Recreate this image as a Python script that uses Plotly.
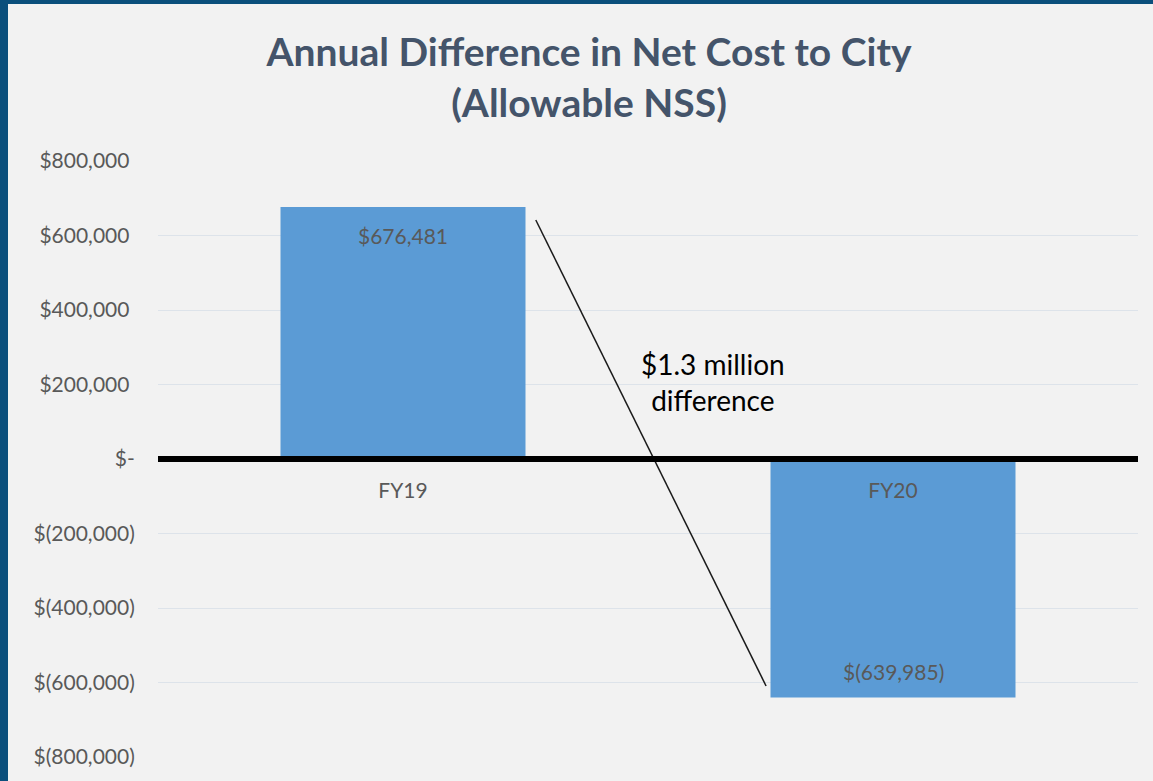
import plotly.graph_objects as go

# ---------------- data ----------------
categories = ["FY19", "FY20"]
net_cost_diff = [676481, -639985]
y_tick_vals = [800000, 600000, 400000, 200000, 0, -200000, -400000, -600000, -800000]
y_tick_text = ["$800,000", "$600,000", "$400,000", "$200,000", "$-",
               "$(200,000)", "$(400,000)", "$(600,000)", "$(800,000)"]
title_lines = ["Annual Difference in Net Cost to City", "(Allowable NSS)"]
callout_lines = ["$1.3 million", "difference"]

# ---------------- style ----------------
W, H = 1153, 781
ML, MR, MT, MB = 158, 15, 161, 24
PW, PH = W - ML - MR, H - MT - MB
BORDER = "#0b4f7c"
BG = "#f2f2f2"
BAR = "#5b9bd5"
TXT = "#595959"
FONT = "Lato"


def money(v):
    return f"${v:,.0f}" if v >= 0 else f"$({-v:,.0f})"


def pad(t):
    if t.endswith(")") or t == "$-":
        return t
    return t + "\u00a0"


fig = go.Figure()
fig.add_trace(go.Bar(
    x=categories, y=net_cost_diff,
    marker=dict(color=BAR, line=dict(width=0)),
    hoverinfo="x+y", showlegend=False,
))

# data labels (inside end of each bar)
for c, v in zip(categories, net_cost_diff):
    fig.add_annotation(x=c, y=v, text=money(v), showarrow=False,
                       yshift=-28 if v >= 0 else 26,
                       font=dict(family=FONT, size=21, color=TXT))

# callout text
fig.add_annotation(x=0.633, y=206700, text="<br>".join(callout_lines),
                   showarrow=False, align="center",
                   font=dict(family=FONT, size=28, color="#000000"))

# diagonal connector line
fig.add_shape(type="line", xref="x", yref="y",
              x0=0.271, y0=641600, x1=0.741, y1=-609400,
              line=dict(color="#1a1a1a", width=1.5), layer="above")

# heavy zero line on top of bars
fig.add_shape(type="line", xref="paper", yref="y", x0=0, x1=1, y0=0, y1=0,
              line=dict(color="#000000", width=6), layer="above")

# light chart area inside the dark frame
fig.add_shape(type="rect", xref="paper", yref="paper",
              x0=(8 - ML) / PW, x1=1.2, y0=-0.2, y1=(H - MB - 4) / PH,
              fillcolor=BG, line=dict(width=0), layer="below")

fig.update_layout(
    width=W, height=H,
    margin=dict(l=ML, r=MR, t=MT, b=MB),
    paper_bgcolor=BORDER, plot_bgcolor=BG,
    bargap=0.5,
    title=dict(text="<br>".join(title_lines), x=589 / W, xanchor="center",
               xref="container", yref="container", y=1 - 66 / H, yanchor="top",
               font=dict(family=FONT, size=39, color="#44546a", weight="bold")),
    xaxis=dict(anchor="free", position=0.5, showgrid=False, zeroline=False,
               showline=False, ticks="outside", ticklen=13,
               tickcolor="rgba(0,0,0,0)",
               tickfont=dict(family=FONT, size=21, color=TXT)),
    yaxis=dict(range=[-800000, 800000], tickvals=y_tick_vals,
               ticktext=[pad(t) for t in y_tick_text],
               showgrid=True, gridcolor="#dde3ea", gridwidth=1,
               zeroline=False, showline=False,
               ticks="outside", ticklen=18, tickcolor="rgba(0,0,0,0)",
               tickfont=dict(family=FONT, size=21, color=TXT)),
    font=dict(family=FONT),
)

fig.write_html("out.html", config={"displayModeBar": False},
               post_script="document.body.style.margin='0';")
